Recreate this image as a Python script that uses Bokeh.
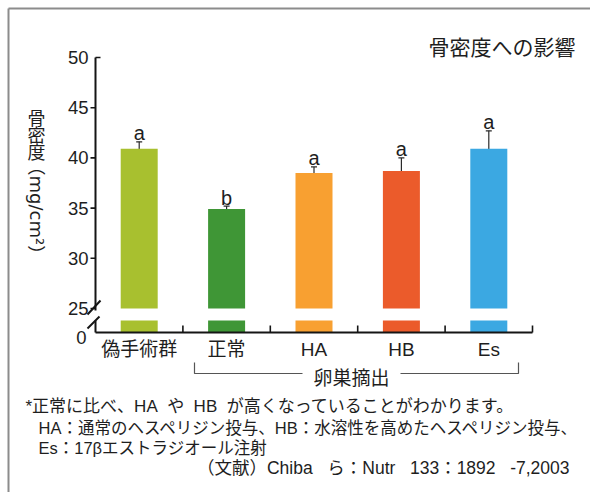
import math
from bokeh.plotting import figure
from bokeh.models import Range1d, ColumnDataSource, Whisker, TeeHead, Label
from bokeh.core.properties import value
from bokeh.embed import file_html
from bokeh.resources import INLINE

# ---- data ----
categories = ["偽手術群", "正常", "HA", "HB", "Es"]
bone_density = [40.9, 34.9, 38.5, 38.7, 40.9]
error = [0.7, 0.3, 0.6, 1.3, 1.8]
letters = ["a", "b", "a", "a", "a"]
y_ticks = [25, 30, 35, 40, 45, 50]
zero_tick_label = "0"
bar_colors = ["#a8c02f", "#3f9636", "#f8a031", "#eb5b2b", "#3ba8e2"]

title_text = "骨密度への影響"
ylabel_chars = ["骨", "密", "度"]
ylabel_unit = "（mg/cm²）"
group_text = "卵巣摘出"
NB = "\u00a0"
notes = [
    "*正常に比べ、HA" + NB * 2 + "や" + NB * 2 + "HB" + NB * 2 + "が高くなっていることがわかります。",
    "HA：通常のヘスペリジン投与、HB：水溶性を高めたヘスペリジン投与、",
    "Es：17βエストラジオール注射",
    "（文献）Chiba" + NB * 3 + "ら：Nutr" + NB * 3 + "133：1892" + NB * 3 + "-7,2003",
]

# ---- layout helpers (page pixels -> data coordinates) ----
X0_PAGE, X_SCALE = 95.0, 87.4
Y50_PAGE, Y_SCALE = 57.0, 10.04
def dx(px):
    return (px - X0_PAGE) / X_SCALE
def dy(py):
    return 50 - (py - Y50_PAGE) / Y_SCALE

W, H = 590, 492

JP = "Noto Sans CJK JP"
MIX = "'Liberation Sans', 'Noto Sans CJK JP'"
WIDE = "'DejaVu Sans', 'Noto Sans CJK JP'"
INK = "#1e1e1e"

p = figure(width=W, height=H, output_backend="svg", toolbar_location=None, title=None,
           x_axis_location=None, y_axis_location=None,
           x_range=Range1d(dx(0), dx(W)), y_range=Range1d(dy(H), dy(0)),
           min_border_left=0, min_border_right=0, min_border_top=0, min_border_bottom=0)
p.outline_line_color = None
p.xgrid.grid_line_color = None
p.ygrid.grid_line_color = None
p.background_fill_color = "white"
p.border_fill_color = "white"

y_zero = dy(332)
y_break_lo = dy(320)
y_break_hi = y_ticks[0]

xs = [i + 0.5 for i in range(len(categories))]
upper = [m + e for m, e in zip(bone_density, error)]
lower = [m - e for m, e in zip(bone_density, error)]
src = ColumnDataSource(dict(x=xs, top=bone_density, upper=upper, lower=lower,
                            color=bar_colors, letter=letters,
                            letter_y=[u + 0.85 for u in upper]))

bw = 37 / X_SCALE
p.vbar(x="x", width=bw, bottom=y_break_hi, top="top", fill_color="color", line_color=None, source=src)
p.vbar(x="x", width=bw, bottom=y_zero, top=y_break_lo, fill_color="color", line_color=None, source=src)

p.add_layout(Whisker(source=src, base="x", upper="upper", lower="lower",
                     line_color="#2a2a2a", line_width=1.2,
                     upper_head=TeeHead(size=6, line_color="#2a2a2a", line_width=1.2),
                     lower_head=TeeHead(size=6, line_color="#2a2a2a", line_width=1.2)))

p.text(x="x", y="letter_y", text="letter", source=src, text_align="center",
       text_baseline="middle", text_font=value("Liberation Sans"),
       text_font_size="20px", text_color=INK)

# ---- axes with break ----
AX = "#151515"
n = len(categories)
p.segment(x0=[0, 0], y0=[y_zero, dy(310)], x1=[0, 0], y1=[y_break_lo, y_ticks[-1]],
          line_color=AX, line_width=2)
p.segment(x0=[0] * len(y_ticks), y0=y_ticks,
          x1=[dx(90)] * (len(y_ticks) - 1) + [dx(100)], y1=y_ticks,
          line_color=AX, line_width=1.6)
p.segment(x0=[dx(87), dx(87)], y0=[dy(314), dy(328)], x1=[dx(100), dx(99)], y1=[dy(300), dy(316)],
          line_color=AX, line_width=2)
p.segment(x0=0, y0=y_zero, x1=n, y1=y_zero, line_color=AX, line_width=2.2)
p.segment(x0=list(range(1, n + 1)), y0=[y_zero] * n, x1=list(range(1, n + 1)),
          y1=[y_zero + 7 / Y_SCALE] * n, line_color=AX, line_width=1.6)

# tick labels
p.text(x=[dx(88)] * len(y_ticks), y=y_ticks, text=[str(t) for t in y_ticks],
       text_align="right", text_baseline="middle", text_font=value("Liberation Sans"),
       text_font_size="18.5px", text_color=INK)
p.text(x=[dx(86)], y=[dy(337)], text=[zero_tick_label], text_align="right",
       text_baseline="middle", text_font=value("Liberation Sans"),
       text_font_size="18.5px", text_color=INK)
p.text(x=xs, y=[dy(349)] * n, text=categories, text_align="center", text_baseline="middle",
       text_font=value(MIX), text_font_size="19px", text_color=INK)

# ---- texts ----
p.add_layout(Label(x=dx(575), y=dy(45), text=title_text, text_align="right",
                   text_baseline="middle", text_font=JP, text_font_size="21px", text_color=INK))
for i, ch in enumerate(ylabel_chars):
    p.add_layout(Label(x=dx(36), y=dy(116 + 17 * i), text=ch, text_align="center",
                       text_baseline="middle", text_font=JP, text_font_size="18px", text_color=INK))
p.add_layout(Label(x=dx(36), y=dy(157), text=ylabel_unit, angle=-math.pi / 2,
                   text_align="left", text_baseline="middle", text_font=WIDE,
                   text_font_size="18px", text_color=INK))

# group bracket
BR = "#555555"
p.multi_line(xs=[[dx(194), dx(194), dx(302)], [dx(400), dx(518), dx(518)]],
             ys=[[dy(362), dy(373), dy(373)], [dy(373), dy(373), dy(362)]],
             line_color=BR, line_width=1.2)
p.add_layout(Label(x=dx(351), y=dy(376), text=group_text, text_align="center",
                   text_baseline="middle", text_font=JP, text_font_size="19px", text_color=INK))

# notes
note_pos = [(25, 406, "left", "17px"), (38, 427, "left", "16.5px"),
            (38, 447, "left", "16.5px"), (569, 467, "right", "17.5px")]
for t, (nx, ny, al, fs) in zip(notes, note_pos):
    p.add_layout(Label(x=dx(nx), y=dy(ny), text=t, text_align=al, text_baseline="middle",
                       text_font=MIX, text_font_size=fs, text_color=INK))

# outer frame lines
p.segment(x0=[dx(8), dx(8)], y0=[dy(8), dy(8)], x1=[dx(8), dx(W)], y1=[dy(H), dy(8)],
          line_color="#8c8c8c", line_width=2)

open("out.html", "w").write(file_html(p, INLINE))
